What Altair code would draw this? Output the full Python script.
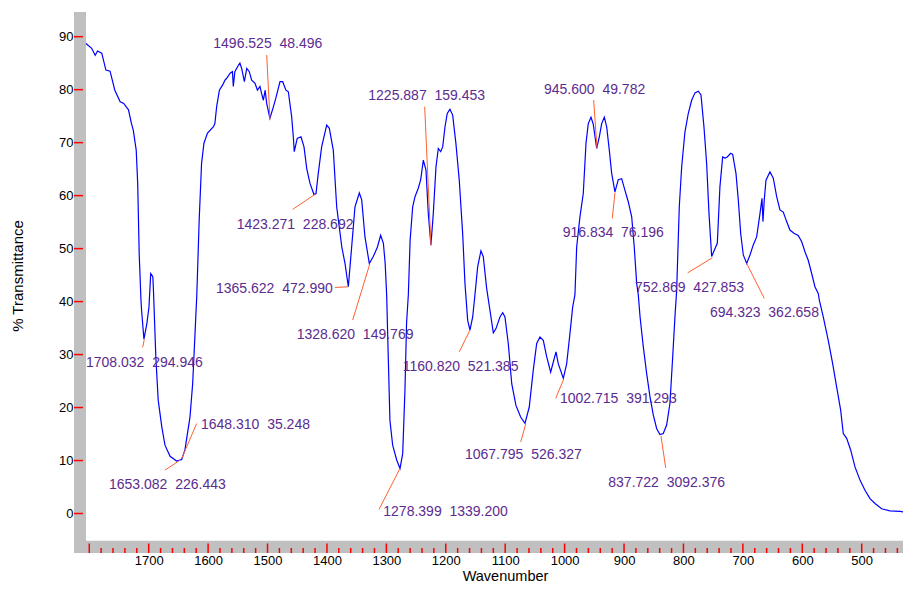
import altair as alt
import pandas as pd

# ---------------- spectrum ----------------
wavenumber = [
    1805.5, 1796, 1790, 1786, 1779, 1772, 1765, 1757, 1748, 1742, 1734, 1729, 1726, 1721,
    1718.5, 1716, 1713, 1712, 1708, 1703, 1699.5, 1696.6, 1693, 1692, 1688, 1684, 1678,
    1672.6, 1664, 1653, 1644.5, 1639, 1630.5, 1626, 1622, 1619, 1615, 1611, 1607, 1601,
    1591, 1588.6, 1585.6, 1581, 1575.5, 1571.6, 1569, 1563, 1559, 1557.6, 1555, 1549,
    1546.5, 1543.5, 1539, 1535, 1530.7, 1526.7, 1521, 1517, 1512.7, 1510, 1507, 1504,
    1501.4, 1496, 1490, 1486, 1479, 1474.5, 1469, 1465, 1459.4, 1456.6, 1455, 1450,
    1443.7, 1438.6, 1434, 1428.5, 1421.8, 1418.4, 1414.6, 1408.9, 1400.4, 1396, 1389.3,
    1383.6, 1375, 1369.6, 1364, 1358.4, 1352.8, 1345.5, 1341.5, 1336, 1328.7, 1322, 1315,
    1309.6, 1305, 1302, 1299.5, 1296.8, 1294, 1289.4, 1282.6, 1277, 1272.5, 1268.7, 1266,
    1263, 1260, 1255.7, 1251.8, 1246.3, 1242.2, 1237.8, 1233.3, 1229.4, 1225, 1221, 1216.5,
    1212.6, 1208.6, 1205.2, 1201.3, 1197.5, 1193, 1188.4, 1183, 1177.3, 1171.6, 1167.7,
    1163.2, 1159.3, 1154.7, 1150.9, 1146.3, 1140.8, 1136.9, 1131.2, 1124, 1120, 1115.5,
    1108.8, 1104.2, 1100.4, 1094.8, 1089, 1081.9, 1074, 1066.7, 1059.5, 1052.7, 1047,
    1041.5, 1035.9, 1030.2, 1023.5, 1019, 1014.5, 1010.7, 1002.2, 996.5, 991, 986.4, 982.6,
    979.7, 974.2, 968.6, 964, 960.2, 955.6, 951.8, 946, 941.6, 937.6, 933.2, 929.2, 924.8,
    920.8, 915.3, 911.4, 909.7, 904, 898.4, 892.8, 887.1, 882.8, 878.7, 876, 873, 867.6,
    861.9, 856.3, 850.8, 845, 839.5, 834, 828.3, 822.7, 818.1, 814.3, 811.4, 807, 803,
    797.5, 791.9, 786.2, 780.6, 775.1, 770.5, 765.5, 761, 757, 752.5, 748.1, 743, 738.6,
    734, 730.1, 726.3, 720.5, 717.2, 711.6, 707.7, 703.7, 699.3, 693.6, 688, 682.5, 676.8,
    671.2, 667.8, 666.2, 664, 661.1, 654.4, 648.8, 643.1, 637.6, 632, 626.3, 620.8, 614,
    606.8, 601, 595.5, 590, 584.2, 578.7, 573, 571.4, 564.7, 556.3, 548.9, 542.2, 535.4,
    531, 525.3, 518.6, 511.3, 502.9, 494.5, 486, 477.6, 466.4, 452.5, 435.6, 417,
]
transmittance = [
    88.7, 87.8, 86.5, 87.3, 86.9, 83.7, 83.5, 79.9, 77.7, 77.4, 76.2, 73.6, 72.4, 68.6,
    62.3, 49.1, 40.3, 38.4, 32.9, 35.9, 39.0, 45.3, 44.7, 42.2, 29.6, 21.4, 16.4,
    12.9, 10.8, 9.9, 10.2, 12.0, 18.2, 24.5, 34.0, 41.3, 55.4, 66.1, 69.9, 71.8,
    73.0, 73.6, 76.8, 79.9, 80.9, 81.8, 82.1, 83.1, 83.4, 80.6, 83.4, 84.6,
    85.0, 84.0, 81.5, 84.0, 83.4, 81.8, 81.2, 79.9, 80.6, 79.3, 78.0, 79.9,
    77.4, 74.6, 76.8, 78.4, 81.5, 81.5, 79.9, 79.6, 74.9, 71.1, 68.3, 70.8,
    71.1, 69.2, 65.1, 62.3, 60.2, 60.4, 64.2, 69.2, 73.3, 72.7, 68.6,
    57.9, 50.3, 47.2, 42.8, 50.3, 57.9, 60.5, 59.2, 52.2, 47.2, 48.5, 50.3,
    52.5, 51.0, 47.2, 41.3, 29.6, 17.6, 12.9, 10.1, 8.5, 11.3, 23.3, 35.9,
    41.3, 51.6, 57.9, 59.8, 61.4, 63.0, 66.7, 64.8, 56.6, 50.7, 56.6, 65.4,
    68.9, 68.3, 69.2, 73.0, 75.5, 76.3, 75.2, 69.9, 62.9, 52.9, 43.4,
    36.5, 34.6, 37.1, 41.3, 46.6, 49.6, 48.5, 42.5, 37.1, 34.1, 34.9,
    37.1, 37.9, 37.1, 32.1, 24.5, 20.4, 18.2, 17.0, 20.1, 27.1, 32.1,
    33.3, 32.7, 29.6, 26.7, 28.6, 30.5, 28.3, 25.5, 28.3, 34.0, 39.0, 41.3,
    50.3, 56.0, 60.4, 69.9, 73.6, 74.8, 73.5, 68.9, 71.1, 73.6, 74.8, 73.0, 68.6,
    64.2, 60.7, 62.3, 63.0, 63.2, 61.0, 58.8, 56.0, 50.3, 43.4, 41.3, 37.1, 31.5,
    26.4, 22.0, 18.6, 16.0, 14.9, 15.1, 16.7, 20.8, 29.6, 37.1, 42.2, 57.9, 65.4,
    72.0, 75.5, 78.0, 79.4, 79.7, 79.0, 73.0, 66.1, 56.6, 48.5, 49.7, 51.0, 61.7,
    67.3, 67.1, 67.3, 68.0, 67.8, 64.2, 59.2, 52.9, 48.8, 47.2, 48.8, 50.7, 52.2,
    56.6, 59.5, 55.1, 59.2, 62.9, 64.5, 63.3, 59.8, 57.3, 56.9, 55.1, 53.5, 52.9,
    52.5, 51.3, 49.4, 47.8, 45.3, 42.8, 41.5, 40.3, 37.1, 32.7, 28.3, 23.9, 19.5,
    15.1, 14.2, 12.0, 8.8, 6.3, 4.4, 2.8, 1.9, 0.9, 0.5, 0.4, 0.1,
]

# ---------------- peak annotations ----------------
SP = "\u00a0\u00a0"
peak_labels = [
    "1496.525" + SP + "48.496", "1423.271" + SP + "228.692", "1365.622" + SP + "472.990",
    "1328.620" + SP + "149.769", "1708.032" + SP + "294.946", "1648.310" + SP + "35.248",
    "1653.082" + SP + "226.443", "1225.887" + SP + "159.453", "1278.399" + SP + "1339.200",
    "1160.820" + SP + "521.385", "1067.795" + SP + "526.327", "1002.715" + SP + "391.293",
    "945.600" + SP + "49.782", "916.834" + SP + "76.196", "837.722" + SP + "3092.376",
    "752.869" + SP + "427.853", "694.323" + SP + "362.658",
]
label_wn = [1591.3, 1551.9, 1586.7, 1450.9, 1805.5, 1612.0, 1766.8, 1330.4, 1305.2,
            1272.5, 1167.7, 1007.8, 1034.7, 1003.3, 926.5, 881.6, 755.4]
label_tr = [87.80, 53.63, 41.54, 32.95, 27.68, 15.86, 4.59, 78.04, -0.45,
            26.87, 10.20, 20.77, 79.17, 52.12, 5.02, 41.84, 37.12]
leader_wn1 = [1501.4, 1457.7, 1386.5, 1356.7, 1710.1, 1619.2, 1672.6, 1235.5, 1312.4,
              1177.3, 1073.9, 1015.0, 951.1, 919.8, 829.9, 792.9, 664.0]
leader_tr1 = [86.54, 57.40, 42.67, 36.50, 31.35, 16.99, 8.18, 76.78, 0.76,
              30.51, 13.52, 21.72, 78.04, 55.70, 8.61, 45.43, 40.60]
leader_wn2 = [1495.9, 1420.2, 1364.1, 1327.6, 1707.4, 1644.5, 1647.3, 1224.9, 1277.1,
              1159.3, 1065.5, 1001.6, 945.5, 915.2, 837.8, 751.5, 693.6]
leader_tr2 = [74.40, 60.23, 42.79, 47.21, 32.85, 10.39, 10.07, 50.53, 8.50,
              34.61, 16.86, 25.36, 68.92, 60.61, 14.65, 48.26, 47.21]

# ---------------- axis ticks ----------------
x_label_values = list(range(1700, 499, -100))
x_major_ticks = list(range(1800, 499, -100))
x_minor_ticks = [w for w in range(1800, 419, -20) if w % 100 != 0]
y_ticks = list(range(0, 91, 10))

FONT = "Liberation Sans, Arial, Helvetica, sans-serif"
W, H = 829, 541
BAND = "#c0c0c0"
TICK = "#ff0000"

xscale = alt.Scale(domain=[1805.5, 430.5], range=[12, 829], nice=False, zero=False)
yscale = alt.Scale(domain=[-5, 94.66], range=[528, 0], nice=False, zero=False)

xaxis = alt.Axis(values=x_label_values, format="d", title="Wavenumber",
                 ticks=False, tickSize=0, domain=False, grid=False,
                 labelFont=FONT, labelFontSize=13, labelColor="#000000",
                 labelPadding=11, labelBaseline="alphabetic",
                 labelFlush=False, labelOverlap=False,
                 titleFont=FONT, titleFontSize=14.5, titleFontWeight="normal",
                 titleColor="#000000", titleX=431, titleY=27,
                 titleBaseline="alphabetic", titleAlign="center")
yaxis = alt.Axis(values=y_ticks, format="d", title="% Transmittance",
                 ticks=False, tickSize=0, domain=False, grid=False,
                 labelFont=FONT, labelFontSize=13, labelColor="#000000",
                 labelPadding=1, labelFlush=False, labelOverlap=False,
                 titleFont=FONT, titleFontSize=15, titleFontWeight="normal",
                 titleColor="#000000", titleX=-52, titleY=263.5,
                 titleAngle=270, titleBaseline="alphabetic", titleAlign="center")

one = pd.DataFrame({"k": [0]})
left_band = alt.Chart(one).mark_rect(color=BAND).encode(
    x=alt.value(0), x2=alt.value(12), y=alt.value(0), y2=alt.value(H))
bottom_band = alt.Chart(one).mark_rect(color=BAND).encode(
    x=alt.value(0), x2=alt.value(W), y=alt.value(528.7), y2=alt.value(H))

xmaj = alt.Chart(pd.DataFrame({"Wavenumber": x_major_ticks})).mark_rule(
    color=TICK, strokeWidth=1.5).encode(
    x=alt.X("Wavenumber:Q", scale=xscale, axis=xaxis),
    y=alt.value(H), y2=alt.value(H - 9.5))
xmin = alt.Chart(pd.DataFrame({"Wavenumber": x_minor_ticks})).mark_rule(
    color=TICK, strokeWidth=1.5).encode(
    x=alt.X("Wavenumber:Q", scale=xscale, axis=xaxis),
    y=alt.value(H), y2=alt.value(H - 5))
ymaj = alt.Chart(pd.DataFrame({"T": y_ticks})).mark_rule(
    color=TICK, strokeWidth=1.5).encode(
    y=alt.Y("T:Q", scale=yscale, axis=yaxis), x=alt.value(0), x2=alt.value(9))

spec_df = pd.DataFrame({"Wavenumber": wavenumber, "T": transmittance})
line = alt.Chart(spec_df).mark_line(color="#0000ff", strokeWidth=1.2, clip=True).encode(
    x=alt.X("Wavenumber:Q", scale=xscale, axis=xaxis),
    y=alt.Y("T:Q", scale=yscale, axis=yaxis),
)

lead_df = pd.DataFrame({"Wavenumber": leader_wn1, "T": leader_tr1,
                        "w2": leader_wn2, "t2": leader_tr2})
leaders = alt.Chart(lead_df).mark_rule(color="#ff6030", strokeWidth=1).encode(
    x=alt.X("Wavenumber:Q", scale=xscale, axis=xaxis), x2="w2:Q",
    y=alt.Y("T:Q", scale=yscale, axis=yaxis), y2="t2:Q")

lab_df = pd.DataFrame({"label": peak_labels, "Wavenumber": label_wn, "T": label_tr})
labels = alt.Chart(lab_df).mark_text(
    align="left", baseline="alphabetic", font=FONT, fontSize=14,
    color="#5b2c8f").encode(
    x=alt.X("Wavenumber:Q", scale=xscale, axis=xaxis),
    y=alt.Y("T:Q", scale=yscale, axis=yaxis),
    text="label:N")

chart = alt.layer(left_band, bottom_band, xmin, xmaj, ymaj, line, leaders, labels).properties(
    width=W, height=H,
    autosize=alt.AutoSizeParams(type="none"),
    padding={"left": 66, "top": 4, "right": 0, "bottom": 30},
    background="white",
).configure_view(stroke=None)

chart.save("out.html", embed_options={"renderer": "svg", "actions": False})
